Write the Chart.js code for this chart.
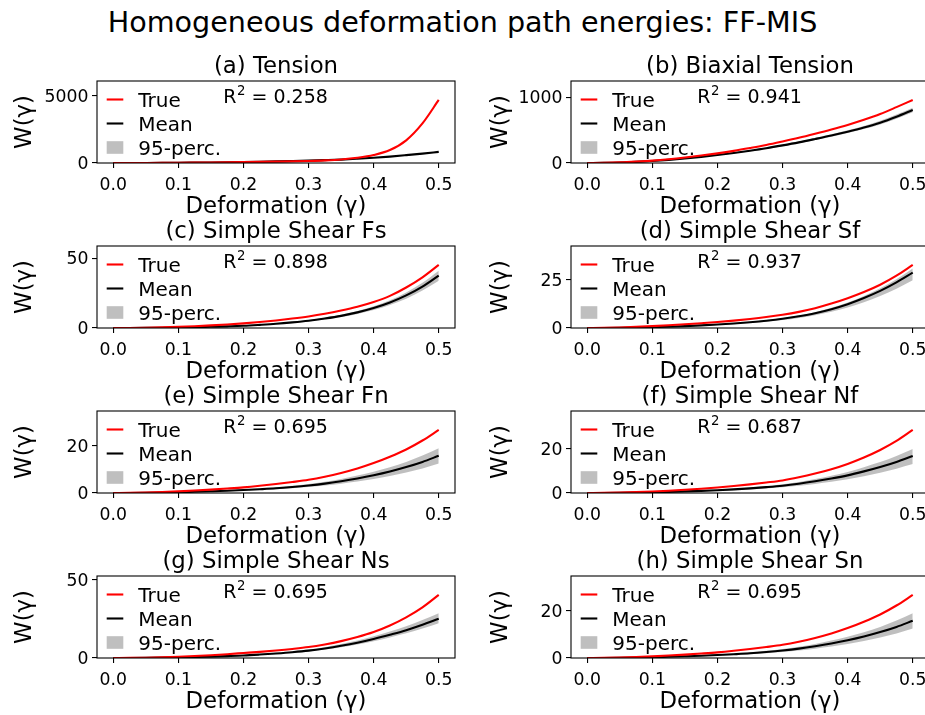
<!DOCTYPE html>
<html>
<head>
<meta charset="utf-8">
<script src="https://cdn.jsdelivr.net/npm/chart.js@4.4.1/dist/chart.umd.min.js"></script>
<style>
  html, body { margin: 0; padding: 0; background: #fff; overflow: hidden; width: 925px; height: 715px; }
  #suptitle { position: absolute; left: 0; width: 925px; top: 8px; text-align: center;
              font: 28.6px/1 'DejaVu Sans', sans-serif; color: #000; white-space: nowrap; }
  canvas { position: absolute; }
</style>
</head>
<body>
<div id="suptitle">Homogeneous deformation path energies: FF-MIS</div>
<script>
// ---- data -------------------------------------------------------------
const gamma = [0, 0.025, 0.05, 0.075, 0.1, 0.125, 0.15, 0.175, 0.2, 0.225, 0.25,
               0.275, 0.3, 0.325, 0.35, 0.375, 0.4, 0.425, 0.45, 0.475, 0.5];
const xTicks = [0, 0.1, 0.2, 0.3, 0.4, 0.5];
const seriesLabels = ['True', 'Mean', '95-perc.'];

const panelTitles = [
  '(a) Tension', '(b) Biaxial Tension',
  '(c) Simple Shear Fs', '(d) Simple Shear Sf',
  '(e) Simple Shear Fn', '(f) Simple Shear Nf',
  '(g) Simple Shear Ns', '(h) Simple Shear Sn'
];
const r2Values = ['0.258', '0.941', '0.898', '0.937', '0.695', '0.687', '0.695', '0.695'];

const yTicksA = [0, 5000];
const yTicksB = [0, 1000];
const yTicksC = [0, 50];
const yTicksD = [0, 25];
const yTicksE = [0, 20];
const yTicksF = [0, 20];
const yTicksG = [0, 50];
const yTicksH = [0, 20];

// (a) Tension
const trueA = [0, 1, 4, 9, 17, 26, 38, 51, 66, 82, 100, 121, 150, 193, 262, 385, 590, 963, 1690, 2950, 4700];
const meanA = [0, 1, 5, 11, 19, 30, 42, 57, 75, 95, 118, 145, 175, 212, 255, 318, 390, 478, 585, 700, 830];
const lowA  = [0, 1, 5, 11, 18, 29, 41, 55, 73, 92, 114, 141, 170, 206, 247, 308, 378, 464, 567, 679, 805];
const highA = [0, 1, 5, 11, 20, 31, 43, 59, 77, 98, 122, 149, 180, 218, 263, 328, 402, 492, 603, 721, 855];
// (b) Biaxial tension
const trueB = [0, 2, 9, 21, 36, 57, 83, 113, 147, 185, 228, 274, 327, 383, 445, 510, 580, 658, 745, 850, 960];
const meanB = [0, 2, 7, 17, 30, 47, 68, 93, 121, 152, 187, 225, 268, 314, 365, 418, 476, 540, 614, 705, 807];
const lowB  = [0, 2, 7, 16, 29, 45, 65, 89, 116, 145, 179, 215, 256, 300, 349, 399, 455, 516, 586, 673, 772];
const highB = [0, 2, 7, 18, 31, 49, 71, 97, 126, 159, 195, 235, 280, 328, 381, 437, 497, 564, 642, 737, 842];
// (c) Simple shear Fs
const trueC = [0, 0.05, 0.2, 0.45, 0.8, 1.3, 1.9, 2.55, 3.3, 4.25, 5.4, 6.75, 8.3, 10.2, 12.5, 15.2, 18.6, 23.0, 29.0, 36.3, 45.2];
const meanC = [0, 0.02, 0.1, 0.22, 0.4, 0.6, 0.9, 1.2, 1.6, 2.25, 3.0, 4.0, 5.2, 6.8, 8.7, 11.2, 14.3, 18.3, 23.4, 29.7, 37.6];
const lowC  = [0, 0.02, 0.09, 0.2, 0.36, 0.54, 0.81, 1.08, 1.44, 2.0, 2.7, 3.6, 4.7, 6.1, 7.8, 10.1, 12.9, 16.5, 21.0, 26.8, 33.8];
const highC = [0, 0.02, 0.11, 0.24, 0.44, 0.65, 0.98, 1.31, 1.74, 2.45, 3.27, 4.36, 5.7, 7.4, 9.5, 12.2, 15.6, 19.9, 25.5, 32.4, 41.0];
// (d) Simple shear Sf
const trueD = [0, 0.07, 0.27, 0.6, 1.0, 1.45, 1.95, 2.5, 3.1, 3.85, 4.7, 5.7, 6.9, 8.4, 10.3, 12.7, 15.5, 18.7, 22.5, 27.2, 32.8];
const meanD = [0, 0.03, 0.11, 0.25, 0.44, 0.68, 0.98, 1.35, 1.8, 2.35, 3.0, 3.8, 4.8, 6.1, 7.7, 9.8, 12.4, 15.6, 19.3, 23.7, 28.8];
const lowD  = [0, 0.03, 0.09, 0.21, 0.38, 0.58, 0.84, 1.16, 1.55, 2.0, 2.6, 3.3, 4.1, 5.2, 6.6, 8.4, 10.7, 13.4, 16.6, 20.4, 24.8];
const highD = [0, 0.03, 0.12, 0.27, 0.47, 0.73, 1.05, 1.44, 1.93, 2.5, 3.2, 4.1, 5.1, 6.5, 8.2, 10.5, 13.3, 16.7, 20.7, 25.4, 31.0];
// (e) Simple shear Fn
const trueE = [0, 0.05, 0.18, 0.4, 0.7, 1.05, 1.45, 1.9, 2.4, 3.05, 3.8, 4.65, 5.6, 6.9, 8.5, 10.4, 12.7, 15.4, 18.5, 22.3, 26.8];
const meanE = [0, 0.02, 0.08, 0.18, 0.32, 0.5, 0.72, 0.96, 1.25, 1.6, 2.0, 2.55, 3.2, 4.0, 5.0, 6.15, 7.5, 9.1, 11.0, 13.2, 15.8];
const lowE  = [0, 0.02, 0.06, 0.14, 0.25, 0.39, 0.57, 0.76, 0.99, 1.26, 1.58, 2.0, 2.5, 3.15, 3.95, 4.85, 5.9, 7.2, 8.7, 10.4, 12.5];
const highE = [0, 0.02, 0.1, 0.22, 0.38, 0.6, 0.86, 1.15, 1.5, 1.92, 2.4, 3.06, 3.84, 4.8, 6.0, 7.4, 9.0, 10.9, 13.2, 15.9, 19.0];
// (f) Simple shear Nf
const trueF = [0, 0.05, 0.18, 0.4, 0.7, 1.05, 1.45, 1.95, 2.5, 3.15, 3.9, 4.75, 5.7, 7.1, 8.8, 10.8, 13.2, 16.1, 19.5, 23.6, 28.6];
const meanF = [0, 0.02, 0.08, 0.18, 0.32, 0.5, 0.72, 0.98, 1.28, 1.65, 2.1, 2.65, 3.3, 4.2, 5.3, 6.55, 8.0, 9.8, 11.8, 14.1, 16.8];
const lowF  = [0, 0.02, 0.06, 0.14, 0.25, 0.39, 0.56, 0.76, 1.0, 1.29, 1.64, 2.07, 2.57, 3.28, 4.13, 5.1, 6.24, 7.64, 9.2, 11.0, 13.1];
const highF = [0, 0.02, 0.1, 0.21, 0.38, 0.6, 0.86, 1.17, 1.52, 1.96, 2.5, 3.15, 3.93, 5.0, 6.3, 7.8, 9.5, 11.7, 14.0, 16.8, 20.0];
// (g) Simple shear Ns
const trueG = [0, 0.05, 0.2, 0.45, 0.8, 1.25, 1.8, 2.45, 3.2, 3.95, 4.8, 5.8, 7.0, 8.7, 10.8, 13.4, 16.6, 20.8, 26.0, 32.4, 40.4];
const meanG = [0, 0.03, 0.1, 0.23, 0.4, 0.62, 0.9, 1.22, 1.6, 2.2, 2.9, 3.7, 4.7, 6.1, 7.8, 9.8, 12.2, 14.9, 17.8, 21.3, 25.1];
const lowG  = [0, 0.03, 0.09, 0.2, 0.36, 0.55, 0.8, 1.09, 1.42, 1.96, 2.58, 3.3, 4.2, 5.4, 6.9, 8.7, 10.8, 13.2, 15.8, 18.9, 22.3];
const highG = [0, 0.03, 0.11, 0.26, 0.46, 0.71, 1.03, 1.39, 1.82, 2.5, 3.3, 4.2, 5.4, 6.95, 8.9, 11.2, 13.9, 17.0, 20.3, 24.3, 28.7];
// (h) Simple shear Sn
const trueH = [0, 0.05, 0.18, 0.4, 0.7, 1.05, 1.45, 1.9, 2.4, 3.05, 3.8, 4.65, 5.6, 6.9, 8.5, 10.4, 12.7, 15.4, 18.5, 22.3, 26.8];
const meanH = [0, 0.02, 0.08, 0.18, 0.32, 0.5, 0.72, 0.96, 1.25, 1.6, 2.0, 2.55, 3.2, 4.0, 5.0, 6.15, 7.5, 9.1, 11.0, 13.2, 15.8];
const lowH  = [0, 0.02, 0.06, 0.14, 0.25, 0.39, 0.57, 0.76, 0.99, 1.26, 1.58, 2.0, 2.5, 3.15, 3.95, 4.85, 5.9, 7.2, 8.7, 10.4, 12.5];
const highH = [0, 0.02, 0.1, 0.22, 0.38, 0.6, 0.86, 1.15, 1.5, 1.92, 2.4, 3.06, 3.84, 4.8, 6.0, 7.4, 9.0, 10.9, 13.2, 15.9, 19.0];

const panels = [
  { t: trueA, m: meanA, lo: lowA, hi: highA, yt: yTicksA },
  { t: trueB, m: meanB, lo: lowB, hi: highB, yt: yTicksB },
  { t: trueC, m: meanC, lo: lowC, hi: highC, yt: yTicksC },
  { t: trueD, m: meanD, lo: lowD, hi: highD, yt: yTicksD },
  { t: trueE, m: meanE, lo: lowE, hi: highE, yt: yTicksE },
  { t: trueF, m: meanF, lo: lowF, hi: highF, yt: yTicksF },
  { t: trueG, m: meanG, lo: lowG, hi: highG, yt: yTicksG },
  { t: trueH, m: meanH, lo: lowH, hi: highH, yt: yTicksH }
];

// ---- layout & style ---------------------------------------------------
const FONT = "'DejaVu Sans', sans-serif";
const TICK_FS = 17.25, LABEL_FS = 22.8, LEG_FS = 20, NOTE_FS = 19;
const BAND_COLOR = 'rgba(128,128,128,0.5)';
const COLS = [
  { left: 0,   width: 465, padLeft: 9.7, axisW: 87.3, padRight: 10 },
  { left: 460, width: 480, padLeft: 25,  axisW: 86,   padRight: 11 }
];
const PLOT_TOPS = [81, 246, 411, 576];
const TITLE_BOX = 40, PLOT_H = 82, XAXIS_H = 57.5, PAD_BOTTOM = 2.5;

Chart.defaults.font.family = FONT;
Chart.defaults.color = '#000';

const toPoints = vals => gamma.map((g, i) => ({ x: g, y: vals[i] }));

// frame, legend and R² annotation drawn inside each axes
const panelDecor = {
  id: 'panelDecor',
  afterDraw(chart, args, opts) {
    const { ctx, chartArea: a } = chart;
    ctx.save();
    ctx.strokeStyle = '#000';
    ctx.lineWidth = 1.1;
    ctx.strokeRect(a.left, a.top, a.right - a.left, a.bottom - a.top);

    // legend
    ctx.font = `${LEG_FS}px ${FONT}`;
    ctx.textBaseline = 'alphabetic';
    ctx.textAlign = 'left';
    const items = chart.data.datasets.filter(d => d.legendLabel);
    items.forEach((d, i) => {
      const y = a.top + 18.5 + 24 * i;
      const x0 = a.left + 9.7, x1 = a.left + 26.3;
      if (d.legendKind === 'patch') {
        ctx.fillStyle = d.backgroundColor;
        ctx.fillRect(x0, y - 6.3, x1 - x0, 12.6);
      } else {
        ctx.strokeStyle = d.borderColor;
        ctx.lineWidth = d.borderWidth;
        ctx.beginPath();
        ctx.moveTo(x0, y);
        ctx.lineTo(x1, y);
        ctx.stroke();
      }
      ctx.fillStyle = '#000';
      ctx.fillText(d.legendLabel, a.left + 41.3, y + 0.3645 * LEG_FS);
    });

    // R² = value
    const bx = a.left + 126.3, by = a.top + 22.3;
    ctx.font = `${NOTE_FS}px ${FONT}`;
    ctx.fillText('R', bx, by);
    const rw = ctx.measureText('R').width;
    ctx.font = `${NOTE_FS * 0.7}px ${FONT}`;
    ctx.fillText('2', bx + rw + 0.5, by - 8);
    const sw = ctx.measureText('2').width;
    ctx.font = `${NOTE_FS}px ${FONT}`;
    ctx.fillText(' = ' + opts.r2, bx + rw + 0.5 + sw, by);
    ctx.restore();
  }
};

panels.forEach((p, idx) => {
  const col = COLS[idx % 2];
  const row = Math.floor(idx / 2);
  const canvas = document.createElement('canvas');
  const h = TITLE_BOX + PLOT_H + XAXIS_H + PAD_BOTTOM;
  canvas.width = col.width;
  canvas.height = h;
  canvas.style.left = col.left + 'px';
  canvas.style.top = (PLOT_TOPS[row] - TITLE_BOX) + 'px';
  canvas.style.width = col.width + 'px';
  canvas.style.height = h + 'px';
  document.body.appendChild(canvas);

  const yTop = Math.max(...p.t) * 1.3;
  const titleLH = LABEL_FS * 1.2;

  new Chart(canvas, {
    type: 'line',
    data: {
      datasets: [
        { data: toPoints(p.t), borderColor: '#ff0000', borderWidth: 2.1, pointRadius: 0,
          fill: false, order: 0, legendLabel: seriesLabels[0], legendKind: 'line',
          cubicInterpolationMode: 'monotone' },
        { data: toPoints(p.m), borderColor: '#000000', borderWidth: 2.1, pointRadius: 0,
          fill: false, order: 1, legendLabel: seriesLabels[1], legendKind: 'line',
          cubicInterpolationMode: 'monotone' },
        { data: toPoints(p.lo), borderColor: 'transparent', borderWidth: 0, pointRadius: 0,
          fill: false, order: 2, cubicInterpolationMode: 'monotone' },
        { data: toPoints(p.hi), borderColor: 'transparent', borderWidth: 0, pointRadius: 0,
          backgroundColor: BAND_COLOR, fill: '-1', order: 3,
          legendLabel: seriesLabels[2], legendKind: 'patch',
          cubicInterpolationMode: 'monotone' }
      ]
    },
    options: {
      responsive: false,
      animation: false,
      events: [],
      layout: {
        autoPadding: false,
        padding: { left: col.padLeft, right: col.padRight, top: 0, bottom: PAD_BOTTOM }
      },
      plugins: {
        legend: { display: false },
        tooltip: { enabled: false },
        title: {
          display: true,
          fullSize: false,
          text: panelTitles[idx],
          color: '#000',
          font: { size: LABEL_FS, weight: 'normal', lineHeight: 1.2 },
          padding: { top: 12.36, bottom: TITLE_BOX - 12.36 - titleLH }
        },
        panelDecor: { r2: r2Values[idx] }
      },
      scales: {
        x: {
          type: 'linear',
          min: -0.025,
          max: 0.525,
          bounds: 'data',
          afterBuildTicks: s => { s.ticks = xTicks.map(v => ({ value: v })); },
          afterFit: s => { s.height = XAXIS_H; },
          ticks: { font: { size: TICK_FS }, color: '#000', padding: 7, maxRotation: 0,
                   callback: v => v.toFixed(1) },
          grid: { display: true, drawOnChartArea: false, drawTicks: true, tickLength: 5,
                  color: '#000', lineWidth: 1.1 },
          border: { display: false },
          title: { display: true, text: 'Deformation (γ)', color: '#000',
                   font: { size: LABEL_FS, lineHeight: 1.2 }, padding: { top: 0, bottom: 0 } }
        },
        y: {
          type: 'linear',
          min: 0,
          max: yTop,
          bounds: 'data',
          afterBuildTicks: s => { s.ticks = p.yt.map(v => ({ value: v })); },
          afterFit: s => { s.width = col.axisW; },
          ticks: { font: { size: TICK_FS }, color: '#000', padding: 3.5, labelOffset: 1.7,
                   callback: v => String(v) },
          grid: { display: true, drawOnChartArea: false, drawTicks: true, tickLength: 5,
                  color: '#000', lineWidth: 1.1 },
          border: { display: false },
          title: { display: true, text: 'W(γ)', color: '#000',
                   font: { size: LABEL_FS, lineHeight: 1.2 }, padding: { top: 1.9, bottom: 0 } }
        }
      }
    },
    plugins: [panelDecor]
  });
});
</script>
</body>
</html>
